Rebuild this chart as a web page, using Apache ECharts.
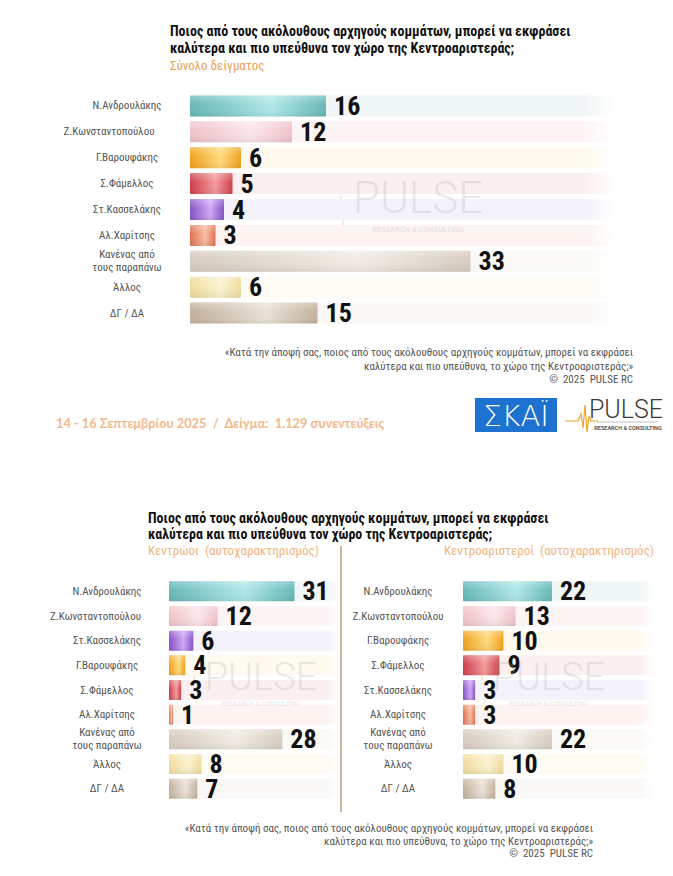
<!DOCTYPE html>
<html><head><meta charset="utf-8">
<script src="https://cdn.jsdelivr.net/npm/echarts@6/dist/echarts.min.js"></script>
<style>html,body{margin:0;padding:0;background:#fff}#c{width:673px;height:876px}</style>
</head><body><div id="c"></div>
<script>
// ---------- DATA ----------
const categoriesTotal = ['Ν.Ανδρουλάκης','Ζ.Κωνσταντοπούλου','Γ.Βαρουφάκης','Σ.Φάμελλος','Στ.Κασσελάκης','Αλ.Χαρίτσης','Κανένας από\nτους παραπάνω','Άλλος','ΔΓ / ΔΑ'];
const valuesTotal = [16,12,6,5,4,3,33,6,15];
const categoriesCentrists = ['Ν.Ανδρουλάκης','Ζ.Κωνσταντοπούλου','Στ.Κασσελάκης','Γ.Βαρουφάκης','Σ.Φάμελλος','Αλ.Χαρίτσης','Κανένας από\nτους παραπάνω','Άλλος','ΔΓ / ΔΑ'];
const valuesCentrists = [31,12,6,4,3,1,28,8,7];
const categoriesCentreLeft = ['Ν.Ανδρουλάκης','Ζ.Κωνσταντοπούλου','Γ.Βαρουφάκης','Σ.Φάμελλος','Στ.Κασσελάκης','Αλ.Χαρίτσης','Κανένας από\nτους παραπάνω','Άλλος','ΔΓ / ΔΑ'];
const valuesCentreLeft = [22,13,10,9,3,3,22,10,8];

const titleLines = ['Ποιος από τους ακόλουθους αρχηγούς κομμάτων, μπορεί να εκφράσει','καλύτερα και πιο υπεύθυνα τον χώρο της Κεντροαριστεράς;'];
const subtitleTotal = 'Σύνολο δείγματος';
const subtitleCentrists = 'Κεντρώοι  (αυτοχαρακτηρισμός)';
const subtitleCentreLeft = 'Κεντροαριστεροί  (αυτοχαρακτηρισμός)';
const quoteLines = ['«Κατά την άποψή σας, ποιος από τους ακόλουθους αρχηγούς κομμάτων, μπορεί να εκφράσει','καλύτερα και πιο υπεύθυνα, το χώρο της Κεντροαριστεράς;»','©  2025  PULSE RC'];
const sampleNote = '14 - 16 Σεπτεμβρίου 2025  /  Δείγμα:  1.129 συνεντεύξεις';

// ---------- STYLE ----------
const NARROW = '"Liberation Sans Narrow", "Roboto Condensed", "DejaVu Sans Condensed", Roboto, sans-serif';
const palette = {
  'Ν.Ανδρουλάκης': ['#66b8b7','#b0e8e8','#f1f6f6'],
  'Ζ.Κωνσταντοπούλου': ['#f0c2c8','#fbe7ea','#fdf4f5'],
  'Γ.Βαρουφάκης': ['#f0a11c','#ffd97c','#fefaee'],
  'Σ.Φάμελλος': ['#cf3d47','#f49c9e','#fcefef'],
  'Στ.Κασσελάκης': ['#8652c6','#d0a8f8','#f4f2fa'],
  'Αλ.Χαρίτσης': ['#e2704f','#f9bca3','#fdf3f0'],
  'Κανένας': ['#d6ccbf','#f1ece5','#faf9f6'],
  'Άλλος': ['#efdc9c','#fbf2cf','#fdfbf3'],
  'ΔΓ / ΔΑ': ['#c2b19d','#ebe2d7','#faf8f6']
};
function pal(name){ return palette[name.indexOf('Κανένας') === 0 ? 'Κανένας' : name]; }
function hGrad(stops){ return {type:'linear',x:0,y:0,x2:1,y2:0,colorStops:stops}; }

const panels = [
  {cats:categoriesTotal, vals:valuesTotal, grid:{left:190,top:93,width:425,height:233}, max:50, bw:21, margin:63, wide:36, fs:11},
  {cats:categoriesCentrists, vals:valuesCentrists, grid:{left:169,top:579,width:170,height:222}, max:42, bw:20, margin:62, wide:23, fs:11},
  {cats:categoriesCentreLeft, vals:valuesCentreLeft, grid:{left:463,top:579,width:190,height:222}, max:47, bw:20, margin:65, wide:0, fs:11}
];

const grid = [], xAxis = [], yAxis = [], series = [];
panels.forEach((p, i) => {
  grid.push(Object.assign({containLabel:false}, p.grid));
  xAxis.push({gridIndex:i, type:'value', min:0, max:p.max, show:false});
  yAxis.push({
    gridIndex:i, type:'category', data:p.cats, inverse:true,
    axisLine:{show:false}, axisTick:{show:false}, splitLine:{show:false},
    axisLabel:{
      margin:p.margin, align:'center', color:'#555', fontSize:p.fs, fontFamily:NARROW, lineHeight:13,
      formatter: v => (v === 'Ζ.Κωνσταντοπούλου' && p.wide) ? '{w|' + v + '}' : v,
      rich:{w:{padding:[0,p.wide,0,0], color:'#555', fontSize:p.fs, fontFamily:NARROW}}
    }
  });
  // background tracks
  series.push({
    type:'bar', xAxisIndex:i, yAxisIndex:i, barWidth:p.bw, barGap:'-100%', silent:true, z:1,
    data:p.cats.map(c => ({value:p.max, itemStyle:{color:hGrad([{offset:0,color:pal(c)[2]},{offset:0.93,color:pal(c)[2]},{offset:1,color:'#ffffff'}])}})),
    animation:false
  });
  // value bars
  series.push({
    type:'bar', xAxisIndex:i, yAxisIndex:i, barWidth:p.bw, barGap:'-100%', z:2,
    data:p.vals.map((v, k) => { const c = pal(p.cats[k]); return {value:v, itemStyle:{color:hGrad([{offset:0,color:c[0]},{offset:0.6,color:c[1]},{offset:1,color:c[0]}]), borderRadius:1}}; }),
    label:{show:true, position:'right', distance:8, color:'#111', fontFamily:NARROW, fontWeight:'bold', fontSize:26},
    animation:false
  });
  // cylinder shading overlay
  series.push({
    type:'bar', xAxisIndex:i, yAxisIndex:i, barWidth:p.bw, barGap:'-100%', silent:true, z:3,
    data:p.vals.slice(),
    itemStyle:{color:{type:'linear',x:0,y:0,x2:0,y2:1,colorStops:[{offset:0,color:'rgba(255,255,255,0.30)'},{offset:0.45,color:'rgba(255,255,255,0)'},{offset:1,color:'rgba(0,0,0,0.07)'}]}},
    animation:false
  });
});

function T(x, y, text, font, fill, align, va){
  return {type:'text', x:x, y:y, silent:true, z:10, style:{text:text, font:font, fill:fill, textAlign:align||'left', textVerticalAlign:va||'middle'}};
}
function watermark(cx, cy, size){
  return [
    T(cx, cy, 'PULSE', '300 ' + size + 'px Roboto, sans-serif', 'rgba(160,160,160,0.22)', 'center'),
    T(cx, cy + size*0.72, 'RESEARCH & CONSULTING', '600 ' + (size*0.17) + 'px Roboto, sans-serif', 'rgba(170,170,170,0.25)', 'center'),
    {type:'polyline', silent:true, z:0, shape:{points:[[cx-size*2.0,cy+size*0.35],[cx-size*1.8,cy+size*0.35],[cx-size*1.75,cy-size*0.05],[cx-size*1.7,cy+size*0.7],[cx-size*1.65,cy+size*0.1],[cx-size*1.6,cy+size*0.5],[cx-size*1.5,cy+size*0.35]]}, style:{stroke:'rgba(240,170,80,0.25)', lineWidth:1, fill:null}}
  ];
}

const graphic = [].concat(
  [T(170, 31, titleLines[0], 'bold 14px ' + NARROW, '#111'),
   T(170, 48, titleLines[1], 'bold 14px ' + NARROW, '#111'),
   T(170, 65, subtitleTotal, '13px ' + NARROW, '#e99f57')],
  watermark(418, 198, 44),
  [T(633, 352, quoteLines[0], '11px ' + NARROW, '#555', 'right'),
   T(633, 366, quoteLines[1], '11px ' + NARROW, '#555', 'right'),
   T(633, 379, quoteLines[2], '11px ' + NARROW, '#555', 'right'),
   T(56, 423, sampleNote, 'bold 12.8px Lato, sans-serif', '#f3b98b')],
  // logos
  [{type:'rect', silent:true, shape:{x:475, y:398, width:82, height:34}, style:{fill:'#1d72d0'}},
   T(516, 416, 'ΣΚΑΪ', '300 29px "DejaVu Sans", sans-serif', '#ffffff', 'center'),
   {type:'polyline', silent:true, shape:{points:[[565,421],[578,421],[581,414],[583,428],[585,405],[587,432],[589,416],[591,421],[598,421]]}, style:{stroke:'#f0a526', lineWidth:1.2, fill:null}},
   T(626, 409, 'PULSE', '300 25px Roboto, sans-serif', '#3a3a3a', 'center'),
   {type:'line', silent:true, shape:{x1:597,y1:422,x2:658,y2:422}, style:{stroke:'#999', lineWidth:0.6}},
   T(628, 428, 'RESEARCH & CONSULTING', 'bold 5.5px Roboto, sans-serif', '#555', 'center')],
  // bottom section
  [T(148, 518, titleLines[0], 'bold 14px ' + NARROW, '#111'),
   T(148, 534, titleLines[1], 'bold 14px ' + NARROW, '#111'),
   T(148, 550, subtitleCentrists, '13px ' + NARROW, '#f2b47e'),
   T(444, 550, subtitleCentreLeft, '13px ' + NARROW, '#f2b47e'),
   {type:'line', silent:true, shape:{x1:341,y1:546,x2:341,y2:812}, style:{stroke:'#9b6a3c', lineWidth:1}}],
  watermark(261, 677, 38),
  watermark(549, 677, 38),
  [T(593, 828, quoteLines[0], '11px ' + NARROW, '#555', 'right'),
   T(593, 841, quoteLines[1], '11px ' + NARROW, '#555', 'right'),
   T(593, 853, quoteLines[2], '11px ' + NARROW, '#555', 'right')]
);

const chart = echarts.init(document.getElementById('c'), null, {renderer:'svg'});
chart.setOption({backgroundColor:'#ffffff', animation:false, grid, xAxis, yAxis, series, graphic});
</script></body></html>
